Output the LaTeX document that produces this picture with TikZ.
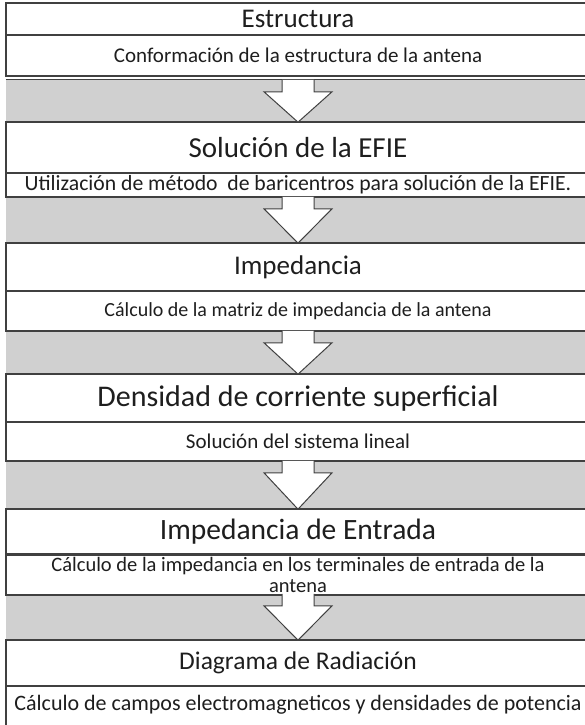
\documentclass[tikz,border=0pt]{standalone}
\usepackage{fontspec}
\setmainfont{Carlito}
\usetikzlibrary{calc}
\definecolor{linec}{HTML}{404040}
\definecolor{bandc}{HTML}{D0D0D0}
\definecolor{txt}{HTML}{1E1E1E}
\newcommand{\fsz}[1]{\fontsize{#1}{#1}\selectfont}
\begin{document}
\begin{tikzpicture}[x=1pt,y=-1pt,
  frame/.style={draw=linec, line width=1.3pt, fill=white, minimum width=584pt, inner sep=0pt, text=txt},
  head/.style={frame, font=\fsz{29}},
  sub/.style={frame, font=\fsz{21}},
  band/.style={fill=bandc, draw=none, minimum width=584pt, inner sep=0pt},
  flow/.style={draw=linec, line width=1pt, fill=white, line join=miter}]
\useasboundingbox (0,0) rectangle (585,725);
\clip (0,0) rectangle (585,725);
% gray bands
\node[band, minimum height=42pt] (g1) at (298,101) {};
\node[band, minimum height=46pt] (g2) at (298,220) {};
\node[band, minimum height=43pt] (g3) at (298,352.5) {};
\node[band, minimum height=48pt] (g4) at (298,485) {};
\node[band, minimum height=46pt] (g5) at (298,617) {};
\draw[linec, line width=1.3pt] (g1.north west) -- (g1.north east);
% boxes
\node[head, minimum height=32pt, font=\fsz{27}] (t1) at (298,19) {Estructura};
\node[sub, minimum height=41pt] (s1) at (298,55.5) {Conformación de la estructura de la antena};
\node[head, minimum height=51pt] (t2) at (298,147.5) {Solución de la EFIE};
\node[sub, minimum height=24pt, font=\fsz{21.7}] (s2) at (298,185) {Utilización de método \ de baricentros para solución de la EFIE.};
\node[head, minimum height=48pt, font=\fsz{27}] (t3) at (298,267) {Impedancia};
\node[sub, minimum height=40pt, font=\fsz{20}] (s3) at (298,311) {Cálculo de la matriz de impedancia de la antena};
\node[head, minimum height=48pt, font=\fsz{30}] (t4) at (298,398) {Densidad de corriente superficial};
\node[sub, minimum height=39pt] (s4) at (298,441.5) {Solución del sistema lineal};
\node[head, minimum height=45pt, font=\fsz{29.5}] (t5) at (298,531.5) {Impedancia de Entrada};
\node[sub, minimum height=40pt, align=center, font=\fontsize{20.5}{21.5}\selectfont] (s5) at (298,575) {Cálculo de la impedancia en los terminales de entrada de la\\antena};
\node[head, minimum height=46pt, font=\fsz{25.5}] (t6) at (298,663) {Diagrama de Radiación};
\node[sub, minimum height=44pt, text height=14pt, text depth=9pt, font=\fsz{22}] (s6) at (298,708) {Cálculo de campos electromagneticos y densidades de potencia};
% block arrows
\foreach \g in {g1,g2,g3,g4,g5}{
  \draw[flow] ($(\g.north)+(-16,0)$) -- ($(\g.north)+(-16,12)$) -- ($(\g.north)+(-34,12)$)
    -- (\g.south) -- ($(\g.north)+(34,12)$) -- ($(\g.north)+(16,12)$) -- ($(\g.north)+(16,0)$);
}
\end{tikzpicture}
\end{document}
